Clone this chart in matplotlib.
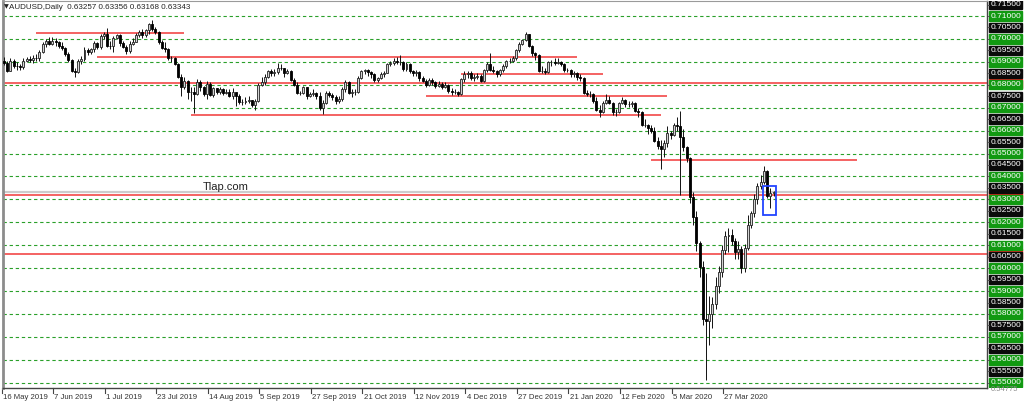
import matplotlib
matplotlib.use('Agg')
import matplotlib.pyplot as plt
import numpy as np
from matplotlib.patches import Rectangle
from matplotlib.transforms import blended_transform_factory

plt.rcParams['font.family'] = ['Liberation Sans', 'DejaVu Sans']

# AUDUSD daily bars, 16 May 2019 .. Apr 2020
first_open = 0.6905
closes = [
    0.6897, 0.6862, 0.6905, 0.6883, 0.6880, 0.6876, 0.6905, 0.6912, 0.6908, 0.6917,
    0.6915, 0.6945, 0.6976, 0.6990, 0.6980, 0.6993, 0.6985, 0.6970, 0.6960, 0.6935,
    0.6907, 0.6862, 0.6856, 0.6905, 0.6912, 0.6950, 0.6943, 0.6955, 0.6982, 0.6963,
    0.7013, 0.7022, 0.6970, 0.6967, 0.7005, 0.7016, 0.6982, 0.6966, 0.6946, 0.6980,
    0.6988, 0.7018, 0.7030, 0.7015, 0.7038, 0.7063, 0.7042, 0.7030, 0.6988, 0.6962,
    0.6955, 0.6915, 0.6915, 0.6890, 0.6835, 0.6790, 0.6815, 0.6770, 0.6770, 0.6760,
    0.6810, 0.6790, 0.6760, 0.6805, 0.6755, 0.6785, 0.6770, 0.6780, 0.6765, 0.6770,
    0.6752, 0.6770, 0.6750, 0.6725, 0.6725, 0.6730, 0.6733, 0.6712, 0.6730, 0.6800,
    0.6812, 0.6835, 0.6860, 0.6852, 0.6855, 0.6875, 0.6873, 0.6852, 0.6860, 0.6822,
    0.6800, 0.6765, 0.6765, 0.6790, 0.6750, 0.6760, 0.6762, 0.6753, 0.6700, 0.6720,
    0.6765, 0.6757, 0.6745, 0.6730, 0.6740, 0.6780, 0.6810, 0.6765, 0.6770, 0.6770,
    0.6830, 0.6858, 0.6865, 0.6855, 0.6845, 0.6820, 0.6828, 0.6845, 0.6853, 0.6890,
    0.6895, 0.6905, 0.6900, 0.6900, 0.6870, 0.6890, 0.6860, 0.6850, 0.6855, 0.6830,
    0.6815, 0.6800, 0.6820, 0.6810, 0.6795, 0.6805, 0.6790, 0.6800, 0.6775, 0.6770,
    0.6770, 0.6760, 0.6825, 0.6845, 0.6850, 0.6830, 0.6835, 0.6840, 0.6815, 0.6865,
    0.6890, 0.6865, 0.6860, 0.6845, 0.6865, 0.6880, 0.6905, 0.6905, 0.6915, 0.6950,
    0.6980, 0.6995, 0.7020, 0.6970, 0.6940, 0.6930, 0.6860, 0.6860, 0.6855, 0.6900,
    0.6900, 0.6895, 0.6900, 0.6890, 0.6865, 0.6865, 0.6845, 0.6850, 0.6835, 0.6830,
    0.6765, 0.6760, 0.6760, 0.6730, 0.6690, 0.6680, 0.6720, 0.6735, 0.6720, 0.6680,
    0.6680, 0.6720, 0.6735, 0.6715, 0.6715, 0.6720, 0.6685, 0.6680, 0.6625, 0.6625,
    0.6610, 0.6600, 0.6555, 0.6535, 0.6520, 0.6545, 0.6590, 0.6580, 0.6625, 0.6620,
    0.6570, 0.6530, 0.6480, 0.6310, 0.6225, 0.6110, 0.6005, 0.5780, 0.5770, 0.5800,
    0.5845, 0.5920, 0.5985, 0.6080, 0.6140, 0.6145, 0.6120, 0.6070, 0.6085, 0.6000,
    0.6090, 0.6190, 0.6240, 0.6300, 0.6360, 0.6375, 0.6425, 0.6315, 0.63257, 0.63343,
]
highs = [
    0.6920, 0.6902, 0.6915, 0.6912, 0.6898, 0.6889, 0.6915, 0.6922, 0.6925, 0.6928,
    0.6935, 0.6950, 0.6985, 0.7000, 0.7010, 0.7008, 0.7005, 0.6990, 0.6985, 0.6965,
    0.6945, 0.6912, 0.6875, 0.6912, 0.6925, 0.6965, 0.6962, 0.6962, 0.6990, 0.6988,
    0.7020, 0.7030, 0.7048, 0.6990, 0.7012, 0.7022, 0.7020, 0.6990, 0.6975, 0.6990,
    0.7005, 0.7025, 0.7040, 0.7045, 0.7045, 0.7070, 0.7082, 0.7050, 0.7035, 0.6995,
    0.6985, 0.6960, 0.6925, 0.6920, 0.6895, 0.6845, 0.6835, 0.6820, 0.6790, 0.6790,
    0.6825, 0.6820, 0.6795, 0.6815, 0.6810, 0.6792, 0.6788, 0.6790, 0.6785, 0.6782,
    0.6780, 0.6785, 0.6762, 0.6760, 0.6740, 0.6745, 0.6750, 0.6735, 0.6740, 0.6808,
    0.6835, 0.6845, 0.6865, 0.6870, 0.6870, 0.6895, 0.6892, 0.6875, 0.6870, 0.6865,
    0.6830, 0.6810, 0.6775, 0.6795, 0.6792, 0.6770, 0.6780, 0.6770, 0.6770, 0.6735,
    0.6775, 0.6772, 0.6765, 0.6755, 0.6750, 0.6790, 0.6820, 0.6815, 0.6780, 0.6780,
    0.6838, 0.6865, 0.6870, 0.6870, 0.6860, 0.6850, 0.6835, 0.6855, 0.6860, 0.6895,
    0.6905, 0.6915, 0.6920, 0.6930, 0.6905, 0.6900, 0.6895, 0.6865, 0.6865, 0.6860,
    0.6840, 0.6825, 0.6830, 0.6830, 0.6815, 0.6815, 0.6812, 0.6810, 0.6805, 0.6785,
    0.6780, 0.6775, 0.6830, 0.6862, 0.6858, 0.6860, 0.6845, 0.6850, 0.6845, 0.6870,
    0.6900, 0.6940, 0.6880, 0.6865, 0.6870, 0.6890, 0.6910, 0.6915, 0.6925, 0.6955,
    0.6985, 0.7000, 0.7032, 0.7020, 0.6975, 0.6945, 0.6935, 0.6880, 0.6875, 0.6905,
    0.6910, 0.6915, 0.6915, 0.6905, 0.6895, 0.6875, 0.6870, 0.6860, 0.6855, 0.6845,
    0.6835, 0.6778, 0.6775, 0.6765, 0.6745, 0.6710, 0.6730, 0.6760, 0.6750, 0.6725,
    0.6695, 0.6725, 0.6745, 0.6740, 0.6730, 0.6728, 0.6725, 0.6700, 0.6685, 0.6650,
    0.6630, 0.6625, 0.6615, 0.6570, 0.6560, 0.6560, 0.6620, 0.6600, 0.6635, 0.6660,
    0.6685, 0.6605, 0.6535, 0.6485, 0.6330, 0.6250, 0.6120, 0.6030, 0.5980, 0.5880,
    0.5875, 0.5960, 0.6010, 0.6100, 0.6160, 0.6175, 0.6170, 0.6130, 0.6120, 0.6095,
    0.6105, 0.6230, 0.6250, 0.6325, 0.6370, 0.6405, 0.6445, 0.6430, 0.6350, 0.63356,
]
lows = [
    0.6885, 0.6855, 0.6860, 0.6875, 0.6866, 0.6864, 0.6870, 0.6898, 0.6900, 0.6895,
    0.6905, 0.6905, 0.6940, 0.6965, 0.6972, 0.6975, 0.6970, 0.6960, 0.6950, 0.6925,
    0.6900, 0.6855, 0.6832, 0.6850, 0.6890, 0.6905, 0.6932, 0.6935, 0.6945, 0.6955,
    0.6958, 0.7000, 0.6965, 0.6955, 0.6945, 0.6998, 0.6970, 0.6960, 0.6935, 0.6940,
    0.6975, 0.6985, 0.7010, 0.7005, 0.7010, 0.7020, 0.7035, 0.7020, 0.6980, 0.6955,
    0.6945, 0.6910, 0.6900, 0.6885, 0.6830, 0.6750, 0.6780, 0.6740, 0.6730, 0.6677,
    0.6755, 0.6775, 0.6750, 0.6740, 0.6750, 0.6745, 0.6760, 0.6760, 0.6755, 0.6760,
    0.6745, 0.6740, 0.6708, 0.6718, 0.6712, 0.6715, 0.6720, 0.6705, 0.6688, 0.6725,
    0.6795, 0.6800, 0.6830, 0.6840, 0.6840, 0.6845, 0.6865, 0.6835, 0.6845, 0.6815,
    0.6795, 0.6760, 0.6755, 0.6760, 0.6740, 0.6745, 0.6750, 0.6740, 0.6690, 0.6671,
    0.6715, 0.6745, 0.6735, 0.6715, 0.6720, 0.6730, 0.6770, 0.6758, 0.6745, 0.6755,
    0.6765, 0.6825, 0.6845, 0.6840, 0.6830, 0.6810, 0.6812, 0.6825, 0.6835, 0.6850,
    0.6880, 0.6885, 0.6890, 0.6885, 0.6860, 0.6860, 0.6850, 0.6840, 0.6840, 0.6815,
    0.6810, 0.6790, 0.6795, 0.6800, 0.6785, 0.6790, 0.6780, 0.6785, 0.6765, 0.6755,
    0.6760, 0.6753, 0.6755, 0.6810, 0.6830, 0.6820, 0.6815, 0.6825, 0.6810, 0.6810,
    0.6855, 0.6860, 0.6850, 0.6835, 0.6840, 0.6855, 0.6875, 0.6895, 0.6900, 0.6910,
    0.6945, 0.6975, 0.6990, 0.6965, 0.6925, 0.6910, 0.6855, 0.6850, 0.6845, 0.6850,
    0.6880, 0.6885, 0.6890, 0.6880, 0.6855, 0.6855, 0.6835, 0.6835, 0.6820, 0.6815,
    0.6760, 0.6750, 0.6745, 0.6720, 0.6685, 0.6660, 0.6675, 0.6715, 0.6715, 0.6670,
    0.6665, 0.6675, 0.6715, 0.6705, 0.6705, 0.6705, 0.6680, 0.6660, 0.6620, 0.6615,
    0.6585, 0.6590, 0.6550, 0.6520, 0.6433, 0.6485, 0.6530, 0.6565, 0.6575, 0.6600,
    0.6320, 0.6510, 0.6465, 0.6285, 0.6190, 0.6075, 0.5960, 0.5750, 0.5510, 0.5665,
    0.5740, 0.5820, 0.5890, 0.5960, 0.6060, 0.6070, 0.6100, 0.6040, 0.6040, 0.5980,
    0.5985, 0.6080, 0.6175, 0.6225, 0.6280, 0.6345, 0.6365, 0.6305, 0.6262, 0.63168,
]

date_labels = ['16 May 2019', '7 Jun 2019', '1 Jul 2019', '23 Jul 2019', '14 Aug 2019',
               '5 Sep 2019', '27 Sep 2019', '21 Oct 2019', '12 Nov 2019', '4 Dec 2019',
               '27 Dec 2019', '21 Jan 2020', '12 Feb 2020', '5 Mar 2020', '27 Mar 2020']
date_label_bars = [0, 16, 32, 48, 64, 80, 96, 112, 128, 144, 160, 176, 192, 208, 224]

grid_levels = [0.55, 0.56, 0.57, 0.58, 0.59, 0.60, 0.61, 0.62, 0.63, 0.64,
               0.65, 0.66, 0.67, 0.68, 0.69, 0.70, 0.71]
scale_labels = [0.550, 0.555, 0.560, 0.565, 0.570, 0.575, 0.580, 0.585, 0.590, 0.595,
                0.600, 0.605, 0.610, 0.615, 0.620, 0.625, 0.630, 0.635, 0.640, 0.645,
                0.650, 0.655, 0.660, 0.665, 0.670, 0.675, 0.680, 0.685, 0.690, 0.695,
                0.700, 0.705, 0.710, 0.715]

# support / resistance lines: (price, from bar, to bar)
segment_lines = [(0.7024, 10, 56), (0.6922, 29, 178), (0.6668, 58, 204),
                 (0.6847, 142, 186), (0.6751, 131, 206), (0.6471, 201, 265)]
full_lines = [0.6806, 0.6317, 0.6061]
bid_level = 0.6331
box = (235.6, 239.6, 0.6230, 0.6358)

symbol_text = 'AUDUSD,Daily  0.63257 0.63356 0.63168 0.63343'
scale_bottom_text = '0.54775'

W, H = 1024, 407
ymin, ymax = 0.5477, 0.71655
fig = plt.figure(figsize=(W / 100, H / 100), dpi=100)
fig.patch.set_facecolor('white')

ax = fig.add_axes([3 / W, 1 - 388 / H, 984 / W, 387 / H])
ax.set_xlim(-0.31, 305.28)
ax.set_ylim(ymin, ymax)
ax.set_xticks([])
ax.set_yticks([])
for s in ['bottom', 'right']:
    ax.spines[s].set_color('#444444')
    ax.spines[s].set_linewidth(1.0)
ax.spines['top'].set_color('#9a9a9a')
ax.spines['left'].set_color('#8c8c8c')
ax.spines['left'].set_linewidth(2.0)

# grid
for lv in grid_levels:
    ax.axhline(lv, color='#2aa02a', lw=0.8, ls=(0, (3, 2.5)), zorder=1)

# levels
ax.axhline(bid_level, color='#cccccc', lw=1.6, zorder=1.5)
for lv in full_lines:
    ax.axhline(lv, color='#f24040', lw=1.15, zorder=2)
for lv, x0, x1 in segment_lines:
    ax.hlines(lv, x0, x1, color='#f24040', lw=1.15, zorder=2)

# candles
c = np.array(closes)
o = np.array([first_open] + closes[:-1])
h = np.array(highs)
l = np.array(lows)
x = np.arange(len(c))
up = c >= o
ax.vlines(x, l, h, color='#111111', lw=0.7, zorder=3)
ax.bar(x[up], (c - o)[up], bottom=o[up], width=0.62, color='#d4d4d4',
       edgecolor='#222222', linewidth=0.6, zorder=4)
ax.bar(x[~up], (o - c)[~up], bottom=c[~up], width=0.62, color='black',
       edgecolor='black', linewidth=0.6, zorder=4)

ax.add_patch(Rectangle((box[0], box[2]), box[1] - box[0], box[3] - box[2],
                       fill=False, edgecolor='#2244ff', lw=1.3, zorder=5))

ax.text(61.8, 0.6355, 'Tlap.com', fontsize=8, color='#222222',
        ha='left', va='center', zorder=6)
ax.text(0.7, 0.7139, '\u25bc', fontsize=4.5, color='#222222', ha='center',
        va='center', family=['DejaVu Sans'])
ax.text(1.7, 0.7139, symbol_text, fontsize=5.8, color='#222222',
        ha='left', va='center')

# date axis
trans = blended_transform_factory(ax.transData, ax.transAxes)
for b, lab in zip(date_label_bars, date_labels):
    xb = b - 0.7
    ax.plot([xb, xb], [0, -0.012], transform=trans, color='#444444', lw=0.8,
            clip_on=False)
    ax.text(xb + 0.35, -0.024, lab, transform=trans, fontsize=5.6,
            color='#333333', ha='left', va='center', clip_on=False)

# price scale
ax2 = fig.add_axes([988 / W, 1 - 388 / H, 36 / W, 387 / H])
ax2.set_xlim(0, 36)
ax2.set_ylim(ymin, ymax)
ax2.axis('off')
half = 0.00205
for lv in full_lines:
    ax2.add_patch(Rectangle((1, lv - half), 33, 2 * half, color='#ff2020', zorder=1))
for lv in scale_labels:
    green = int(round(lv * 1000)) % 10 == 0
    ax2.add_patch(Rectangle((1, lv - half), 33, 2 * half,
                            color='#119911' if green else '#0a0a0a', zorder=2))
    ax2.plot([0, 1], [lv, lv], color='#444444', lw=0.6, zorder=2)
    ax2.text(2.8, lv, '%.5f' % lv, fontsize=6, color='white', ha='left',
             va='center', zorder=3)
ax2.text(2.8, 0.5470, scale_bottom_text, fontsize=5.5, color='#888888',
         ha='left', va='center', clip_on=False)

fig.savefig('out.png', dpi=100, facecolor='white')
